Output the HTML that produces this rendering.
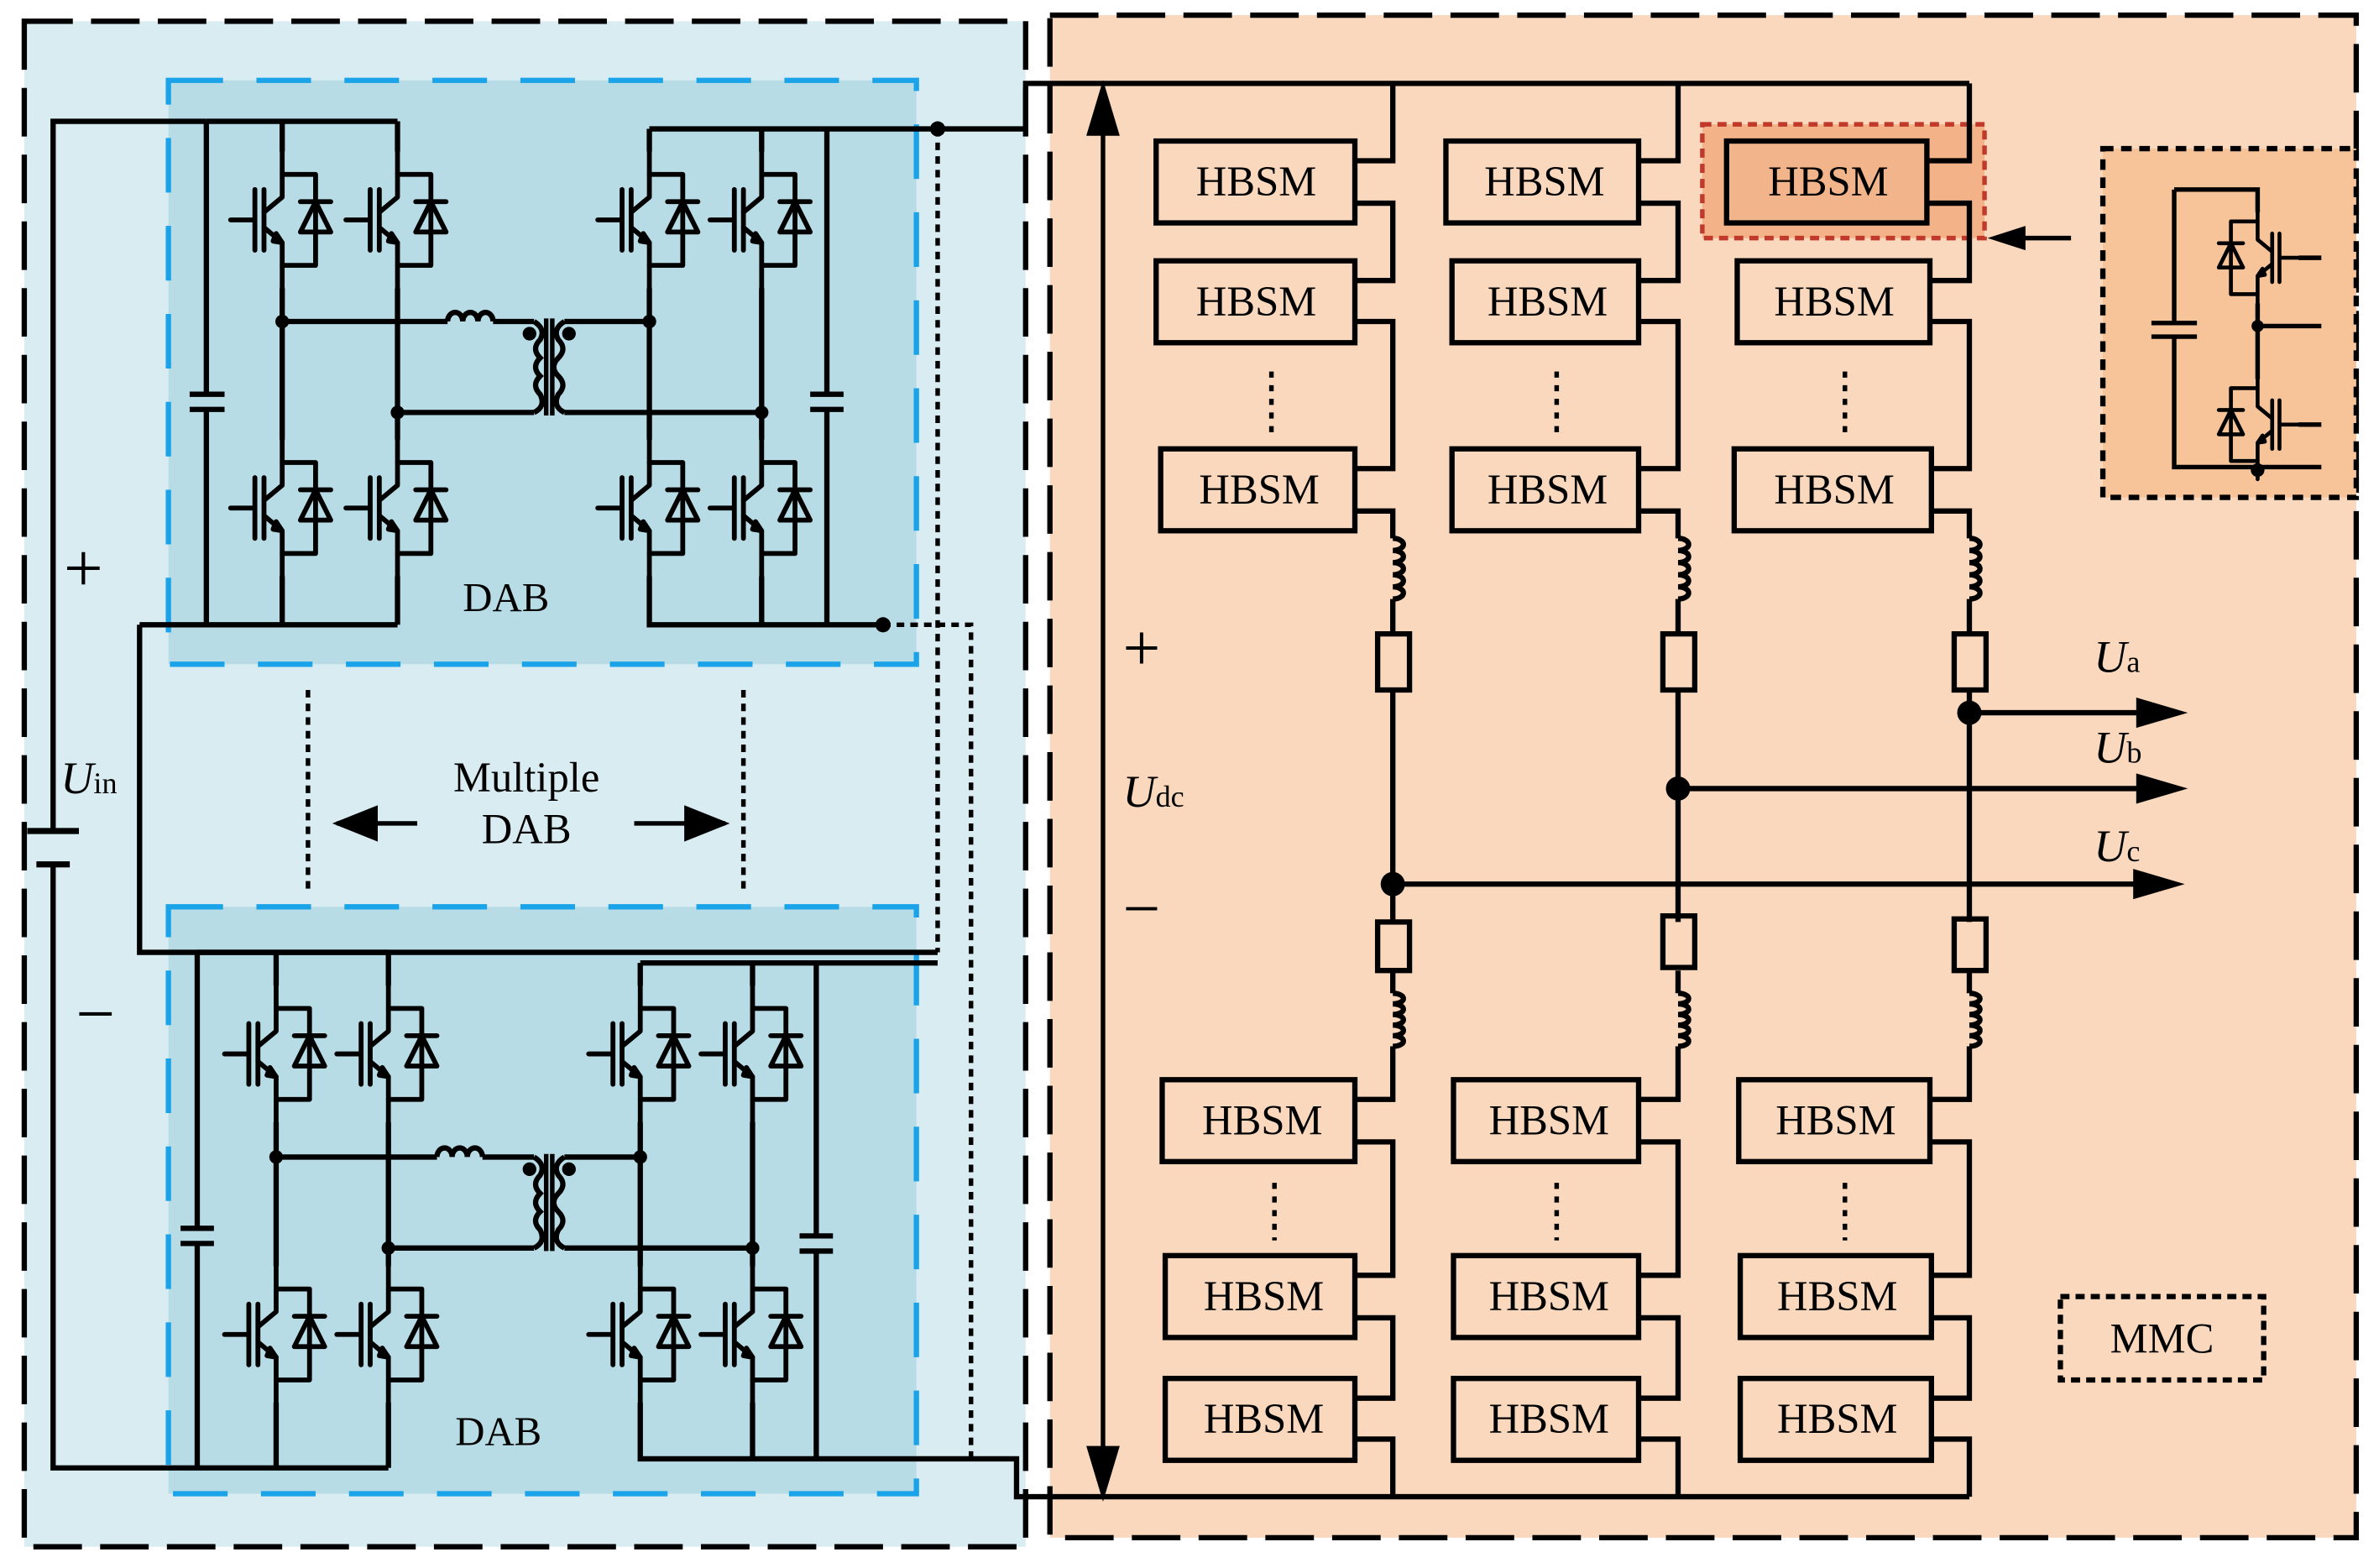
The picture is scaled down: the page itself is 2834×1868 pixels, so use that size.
<!DOCTYPE html>
<html><head><meta charset="utf-8"><style>
html,body{margin:0;padding:0;background:#fff;}
svg{display:block;}
text{font-family:"Liberation Serif",serif;fill:#000;}
</style></head><body>
<svg width="2834" height="1868" viewBox="0 0 1568 1034" preserveAspectRatio="none" xmlns="http://www.w3.org/2000/svg">
<defs>
<g id="sw" fill="none" stroke="#000" stroke-width="3.2" stroke-linejoin="round" stroke-linecap="round">
<path d="M0,-45 V-15 L-12,-5 M-12,5 L0,15 V45"/>
<path d="M-12,-20 V20 M-18,-20 V20 M-34,0 H-18"/>
<path d="M0,-30 H22 V30 H0"/>
<path d="M12,8 H32 L22,-12 Z M12,-12 H32"/>
<path d="M-6,14 L0,15 L-4,9 Z" fill="#000"/>
</g>
<marker id="ah" markerWidth="10" markerHeight="8" refX="9" refY="4" orient="auto" markerUnits="strokeWidth"><path d="M0,0 L10,4 L0,8 Z" fill="#000"/></marker>
</defs>

<rect x="16" y="14" width="660" height="1006" fill="#d9ecf2"/>
<rect x="692" y="10" width="861" height="1004" fill="#f9d8bd"/>
<rect x="16" y="14" width="660" height="1006" fill="none" stroke="#000" stroke-width="3.5" stroke-dasharray="32,12"/>
<rect x="692" y="10" width="861" height="1004" fill="none" stroke="#000" stroke-width="3.5" stroke-dasharray="32,12"/>
<rect x="111" y="53" width="493" height="385" fill="#b7dce6" stroke="#1aa3e8" stroke-width="3.5" stroke-dasharray="36,22"/>
<rect x="111" y="598" width="493" height="387" fill="#b7dce6" stroke="#1aa3e8" stroke-width="3.5" stroke-dasharray="36,22"/>

<g fill="none" stroke="#000" stroke-width="3.5" stroke-linejoin="miter">
<path d="M136,80 H35 V548 M35,570 V968 H256"/>
<path d="M18,548 H52" stroke-width="4"/><path d="M24,570 H46" stroke-width="4"/>
<path d="M136,80 H262 M136,80 V260 M136,270 V412 H262 M125,260 H148 M125,270 H148"/>
<path d="M186,80 V100 M186,190 V290 M186,380 V412"/>
<path d="M262,80 V100 M262,190 V290 M262,380 V412"/>
<path d="M186,212 H295 M325,212 H352 M262,272 H352"/>
<path d="M295,212 a5,6 0 0 1 10,0 a5,6 0 0 1 10,0 a5,6 0 0 1 10,0"/>
<path d="M352,212 q8,5 4,12 q-6,6 0,12 q-6,6 0,12 q-6,6 0,12 q4,8 -4,12"/>
<path d="M372,212 q-8,5 -4,12 q6,6 0,12 q-6,6 0,12 q6,6 0,12 q-4,8 4,12"/>
<path d="M360,210 V274 M364,210 V274" stroke-width="3"/>
<path d="M372,212 H428 M372,272 H502"/>
<path d="M428,85 H676 V55 H1298 M428,85 V100 M428,190 V290 M428,380 V412 H582"/>
<path d="M502,85 V100 M502,190 V290 M502,380 V412 M545,85 V260 M545,270 V412 M534,260 H556 M534,270 H556"/>
<path d="M92,412 H136 M92,412 V628 H618"/>
<path d="M130,628 V810 M130,820 V968 M119,810 H141 M119,820 H141 M130,628 H256"/>
<path d="M182,628 V650 M182,740 V835 M182,925 V968"/>
<path d="M256,628 V650 M256,740 V835 M256,925 V968"/>
<path d="M182,763 H288 M318,763 H352 M256,823 H352"/>
<path d="M288,763 a5,6 0 0 1 10,0 a5,6 0 0 1 10,0 a5,6 0 0 1 10,0"/>
<path d="M352,763 q8,5 4,12 q-6,6 0,12 q-6,6 0,12 q-6,6 0,12 q4,8 -4,12"/>
<path d="M372,763 q-8,5 -4,12 q6,6 0,12 q-6,6 0,12 q6,6 0,12 q-4,8 4,12"/>
<path d="M360,761 V825 M364,761 V825" stroke-width="3"/>
<path d="M372,763 H422 M372,823 H496"/>
<path d="M422,635 H618 M422,635 V650 M422,740 V835 M422,925 V962 H670 V987 H1298"/>
<path d="M496,635 V650 M496,740 V835 M496,925 V962 M538,635 V815 M538,825 V962 M527,815 H549 M527,825 H549"/>
</g>
<g fill="none" stroke="#000" stroke-width="3" stroke-dasharray="5,4">
<path d="M618,85 V628"/>
<path d="M582,412 H640 V962"/>
<path d="M203,455 V590 M490,455 V590"/>
</g>
<use href="#sw" x="186" y="145"/><use href="#sw" x="262" y="145"/>
<use href="#sw" x="186" y="335"/><use href="#sw" x="262" y="335"/>
<use href="#sw" x="428" y="145"/><use href="#sw" x="502" y="145"/>
<use href="#sw" x="428" y="335"/><use href="#sw" x="502" y="335"/>
<use href="#sw" x="182" y="695"/><use href="#sw" x="256" y="695"/>
<use href="#sw" x="182" y="880"/><use href="#sw" x="256" y="880"/>
<use href="#sw" x="422" y="695"/><use href="#sw" x="496" y="695"/>
<use href="#sw" x="422" y="880"/><use href="#sw" x="496" y="880"/>
<g fill="#000">
<circle cx="186" cy="212" r="4.5"/><circle cx="262" cy="272" r="4.5"/><circle cx="428" cy="212" r="4.5"/><circle cx="502" cy="272" r="4.5"/>
<circle cx="349" cy="220" r="4.5"/><circle cx="375" cy="220" r="4.5"/>
<circle cx="182" cy="763" r="4.5"/><circle cx="256" cy="823" r="4.5"/><circle cx="422" cy="763" r="4.5"/><circle cx="496" cy="823" r="4.5"/>
<circle cx="349" cy="771" r="4.5"/><circle cx="375" cy="771" r="4.5"/>
<circle cx="618" cy="85" r="5"/><circle cx="582" cy="412" r="5"/>
</g>
<text x="42" y="390" font-size="46">+</text>
<text x="50" y="684" font-size="46">−</text>
<text x="40" y="523" font-size="30" font-style="italic">U<tspan font-size="20" font-style="normal">in</tspan></text>
<text x="305" y="403" font-size="27">DAB</text>
<text x="300" y="953" font-size="27">DAB</text>
<text x="347" y="522" font-size="28" text-anchor="middle">Multiple</text>
<text x="347" y="556" font-size="28" text-anchor="middle">DAB</text>
<g stroke="#000" stroke-width="3" fill="none">
<path d="M275,543 H222" marker-end="url(#ah)"/>
<path d="M418,543 H478" marker-end="url(#ah)"/>
</g>

<g stroke="#000" stroke-width="3" fill="#000">
<path d="M727,58 V985"/>
<path d="M727,58 L718,88 L736,88 Z"/>
<path d="M727,985 L718,955 L736,955 Z"/>
</g>
<text x="740" y="442" font-size="44">+</text>
<text x="740" y="614" font-size="44">−</text>
<text x="740" y="532" font-size="30" font-style="italic">U<tspan font-size="20" font-style="normal">dc</tspan></text>

<rect x="1122" y="82" width="186" height="75" fill="#f3b287" stroke="#c0392b" stroke-width="3" stroke-dasharray="6,4"/>
<rect x="1386" y="98" width="167" height="230" fill="#f7c49a" stroke="#000" stroke-width="3.5" stroke-dasharray="7,5"/>

<g fill="none" stroke="#000" stroke-width="3.5">
<path d="M918,55 V106 H893 M893,134 H918 V185 H893 M893,212 H918 V309 H893 M893,337 H918 V355 M918,395 V418 M918,455 V608 M918,640 V655 M918,690 V725 H893 M893,753 H918 V841 H893 M893,869 H918 V922 H893 M893,949 H918 V987"/>
<path d="M1106,55 V106 H1080 M1080,134 H1106 V185 H1080 M1080,212 H1106 V309 H1080 M1080,337 H1106 V355 M1106,395 V418 M1106,455 V608 M1106,640 V655 M1106,690 V725 H1080 M1080,753 H1106 V841 H1080 M1080,869 H1106 V922 H1080 M1080,949 H1106 V987"/>
<path d="M1298,55 V106 H1270 M1270,134 H1298 V185 H1272 M1272,212 H1298 V309 H1273 M1273,337 H1298 V355 M1298,395 V418 M1298,455 V608 M1298,640 V655 M1298,690 V725 H1272 M1272,753 H1298 V841 H1273 M1273,869 H1298 V922 H1273 M1273,949 H1298 V987"/>
<path d="M918,355 a7,4 0 0 1 0,8 a7,4 0 0 1 0,8 a7,4 0 0 1 0,8 a7,4 0 0 1 0,8 a7,4 0 0 1 0,8"/>
<path d="M1106,355 a7,4 0 0 1 0,8 a7,4 0 0 1 0,8 a7,4 0 0 1 0,8 a7,4 0 0 1 0,8 a7,4 0 0 1 0,8"/>
<path d="M1298,355 a7,4 0 0 1 0,8 a7,4 0 0 1 0,8 a7,4 0 0 1 0,8 a7,4 0 0 1 0,8 a7,4 0 0 1 0,8"/>
<path d="M918,655 a7,3.5 0 0 1 0,7 a7,3.5 0 0 1 0,7 a7,3.5 0 0 1 0,7 a7,3.5 0 0 1 0,7 a7,3.5 0 0 1 0,7"/>
<path d="M1106,655 a7,3.5 0 0 1 0,7 a7,3.5 0 0 1 0,7 a7,3.5 0 0 1 0,7 a7,3.5 0 0 1 0,7 a7,3.5 0 0 1 0,7"/>
<path d="M1298,655 a7,3.5 0 0 1 0,7 a7,3.5 0 0 1 0,7 a7,3.5 0 0 1 0,7 a7,3.5 0 0 1 0,7 a7,3.5 0 0 1 0,7"/>
<rect x="908" y="418" width="21" height="37"/><rect x="1096" y="418" width="21" height="37"/><rect x="1288" y="418" width="21" height="37"/>
<rect x="908" y="608" width="21" height="32"/><rect x="1096" y="604" width="21" height="34"/><rect x="1288" y="606" width="21" height="34"/>
<path d="M1298,470 H1412 M1106,520 H1412 M918,583 H1410"/>
</g>
<g fill="#000">
<path d="M1442,470 L1408,460 L1408,480 Z"/><path d="M1442,520 L1408,510 L1408,530 Z"/><path d="M1440,583 L1406,573 L1406,593 Z"/>
<circle cx="1298" cy="470" r="8"/><circle cx="1106" cy="520" r="8"/><circle cx="918" cy="583" r="8"/>
</g>
<text x="1380" y="443" font-size="30" font-style="italic">U<tspan font-size="20" font-style="normal">a</tspan></text>
<text x="1380" y="503" font-size="30" font-style="italic">U<tspan font-size="20" font-style="normal">b</tspan></text>
<text x="1380" y="568" font-size="30" font-style="italic">U<tspan font-size="20" font-style="normal">c</tspan></text>

<g stroke="#000" stroke-width="3" stroke-dasharray="4,5" fill="none">
<path d="M838,245 V288 M1026,245 V288 M1216,245 V288"/>
<path d="M840,780 V818 M1026,780 V818 M1216,780 V818"/>
</g>

<g fill="#f9d8bd" stroke="#000" stroke-width="3.5">
<rect x="762" y="93" width="131" height="54"/><rect x="762" y="172" width="131" height="54"/><rect x="765" y="296" width="128" height="54"/>
<rect x="766" y="712" width="127" height="54"/><rect x="768" y="828" width="125" height="54"/><rect x="768" y="909" width="125" height="54"/>
<rect x="953" y="93" width="127" height="54"/><rect x="957" y="172" width="123" height="54"/><rect x="957" y="296" width="123" height="54"/>
<rect x="958" y="712" width="122" height="54"/><rect x="958" y="828" width="122" height="54"/><rect x="958" y="909" width="122" height="54"/>
<rect x="1138" y="93" width="132" height="54" fill="#f2b48a"/><rect x="1145" y="172" width="127" height="54"/><rect x="1143" y="296" width="130" height="54"/>
<rect x="1146" y="712" width="126" height="54"/><rect x="1147" y="828" width="126" height="54"/><rect x="1147" y="909" width="126" height="54"/>
</g>
<g font-size="28" text-anchor="middle">
<text x="828" y="129">HBSM</text><text x="828" y="208">HBSM</text><text x="830" y="332">HBSM</text>
<text x="832" y="748">HBSM</text><text x="833" y="864">HBSM</text><text x="833" y="945">HBSM</text>
<text x="1018" y="129">HBSM</text><text x="1020" y="208">HBSM</text><text x="1020" y="332">HBSM</text>
<text x="1021" y="748">HBSM</text><text x="1021" y="864">HBSM</text><text x="1021" y="945">HBSM</text>
<text x="1205" y="129">HBSM</text><text x="1209" y="208">HBSM</text><text x="1209" y="332">HBSM</text>
<text x="1210" y="748">HBSM</text><text x="1211" y="864">HBSM</text><text x="1211" y="945">HBSM</text>
</g>

<path d="M1365,157 H1330" stroke="#000" stroke-width="3" fill="none"/>
<path d="M1310,157 L1335,149 L1335,165 Z" fill="#000"/>

<g fill="none" stroke="#000" stroke-width="3">
<path d="M1433,125 H1488 V140 M1488,200 V250 M1488,310 V308 H1433 V222 M1433,213 V125 M1418,213 H1448 M1418,222 H1448"/>
<path d="M1488,215 H1530 M1488,308 H1530"/>
</g>
<use href="#sw" transform="translate(1488,170) scale(-0.8,0.8)"/>
<use href="#sw" transform="translate(1488,280) scale(-0.8,0.8)"/>
<path d="M1515,170 H1530 M1515,280 H1530" stroke="#000" stroke-width="3"/>
<circle cx="1488" cy="215" r="4" fill="#000"/><circle cx="1488" cy="310" r="4.5" fill="#000"/>

<rect x="1358" y="855" width="134" height="55" fill="none" stroke="#000" stroke-width="3.5" stroke-dasharray="6,4"/>
<text x="1425" y="892" font-size="28" text-anchor="middle">MMC</text>
</svg>
</body></html>
